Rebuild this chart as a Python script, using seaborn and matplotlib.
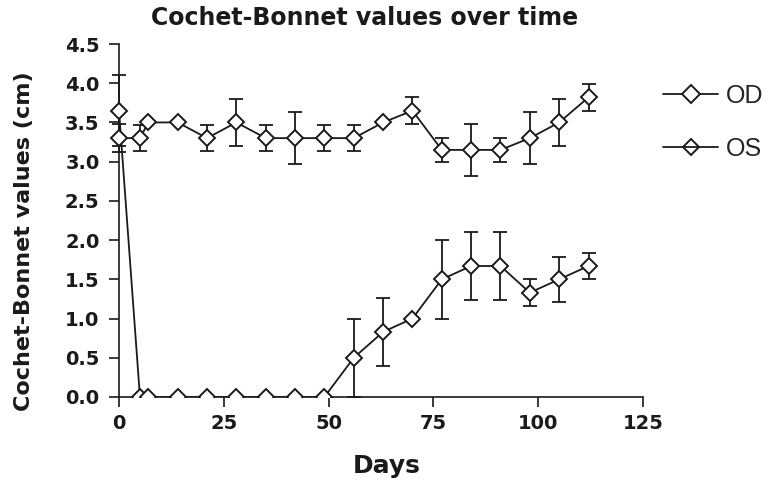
import matplotlib
matplotlib.use('Agg')
import matplotlib.pyplot as plt
import seaborn as sns
import pandas as pd
from matplotlib.lines import Line2D
from matplotlib.patches import Rectangle

# Data
days = [0, 5, 7, 14, 21, 28, 35, 42, 49, 56, 63, 70, 77, 84, 91, 98, 105, 112]
od_values = [3.65, 0, 0, 0, 0, 0, 0, 0, 0, 0.5, 0.83, 1.0, 1.5, 1.67, 1.67, 1.33, 1.5, 1.67]
od_err = [0.45, 0, 0, 0, 0, 0, 0, 0, 0, 0.5, 0.43, 0, 0.5, 0.43, 0.43, 0.17, 0.29, 0.17]
os_values = [3.3, 3.3, 3.5, 3.5, 3.3, 3.5, 3.3, 3.3, 3.3, 3.3, 3.5, 3.65, 3.15, 3.15, 3.15, 3.3, 3.5, 3.82]
os_err = [0.18, 0.17, 0, 0, 0.17, 0.3, 0.17, 0.33, 0.17, 0.17, 0, 0.17, 0.15, 0.33, 0.15, 0.33, 0.3, 0.17]
x_ticks = [0, 25, 50, 75, 100, 125]
y_ticks = [0.0, 0.5, 1.0, 1.5, 2.0, 2.5, 3.0, 3.5, 4.0, 4.5]

df = pd.DataFrame({'day': days * 2,
                   'value': od_values + os_values,
                   'err': od_err + os_err,
                   'eye': ['OD'] * len(days) + ['OS'] * len(days)})

sns.set_style('ticks')
plt.rcParams['font.family'] = ['DejaVu Sans']
ink = '#1a1a1a'

fig = plt.figure(figsize=(7.74, 4.9), dpi=100)
ax = fig.add_axes([119 / 774, 1 - 397 / 490, 524 / 774, 353 / 490])

# clip only below y=0 (markers at day 0 stay whole)
clip = Rectangle((-10, 0), 150, 6, transform=ax.transData, visible=False)
ax.add_patch(clip)

for eye in ['OD', 'OS']:
    d = df[df['eye'] == eye]
    ax.errorbar(d['day'], d['value'], yerr=d['err'], fmt='none', ecolor=ink,
                elinewidth=1.3, capsize=5.2, capthick=1.3, zorder=2)
    sns.lineplot(data=d, x='day', y='value', ax=ax, color=ink, linewidth=1.3,
                 marker='D', markersize=8.5, markerfacecolor='white',
                 markeredgecolor=ink, markeredgewidth=1.4, zorder=3)

for art in ax.lines + ax.collections:
    art.set_clip_path(clip)

ax.set_xlim(0, 125)
ax.set_ylim(0, 4.5)
ax.set_xticks(x_ticks)
ax.set_yticks(y_ticks)
ax.set_yticklabels([f'{v:.1f}' for v in y_ticks])
sns.despine(ax=ax)
for sp in ['left', 'bottom']:
    ax.spines[sp].set_linewidth(1.2)
    ax.spines[sp].set_color(ink)
ax.tick_params(direction='out', length=7, width=1.2, color=ink, pad=5)
ax.tick_params(axis='y', pad=7)
for lab in ax.get_xticklabels():
    lab.set_fontsize(14)
    lab.set_fontweight('bold')
    lab.set_color(ink)
for lab in ax.get_yticklabels():
    lab.set_fontsize(14)
    lab.set_fontweight('bold')
    lab.set_color(ink)

ax.set_xlabel('Days', fontsize=18, fontweight='bold', color=ink)
ax.xaxis.set_label_coords(0.511, -0.161)
ax.set_ylabel('Cochet-Bonnet values (cm)', fontsize=16, fontweight='bold', color=ink)
ax.yaxis.set_label_coords(-0.162, 0.44)
fig.text(365 / 774, 1 - 18 / 490, 'Cochet-Bonnet values over time', ha='center', va='center',
         fontsize=17, fontweight='bold', color=ink)

handles = [Line2D([], [], color=ink, linewidth=1.3, marker='D', markersize=9,
                  markerfacecolor='white', markeredgewidth=1.4),
           Line2D([], [], color=ink, linewidth=1.3, marker='D', markersize=8,
                  markerfacecolor='none', markeredgewidth=1.4)]
fig.legend(handles, ['OD', 'OS'], loc='upper left', bbox_to_anchor=(663 / 774, 1 - 84 / 490),
           frameon=False, handlelength=2.2, handletextpad=0.3,
           labelspacing=1.15, borderpad=0, borderaxespad=0,
           prop={'family': ['Liberation Sans', 'DejaVu Sans'], 'size': 18})

fig.savefig('out.png', dpi=100)
